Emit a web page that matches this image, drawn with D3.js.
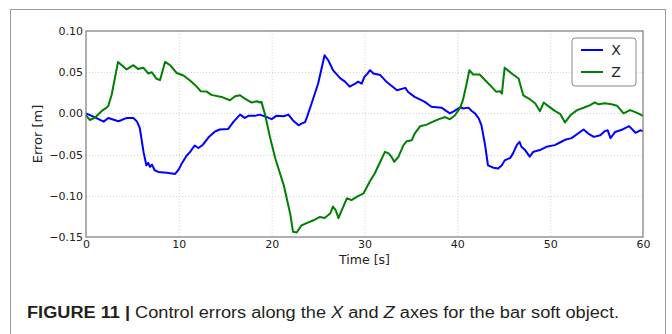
<!DOCTYPE html>
<html>
<head>
<meta charset="utf-8">
<script src="https://cdn.jsdelivr.net/npm/d3@7"></script>
<style>
  body { margin: 0; background: #fff; }
  svg { display: block; }
</style>
</head>
<body>
<div id="chart"></div>
<script>
// Time stamps [s] and errors [m]
const X_TIME = [0, 0.8, 1.9, 2.4, 3.5, 4.4, 5.1, 5.5, 5.8, 6.2, 6.5, 6.7, 6.9, 7.1, 7.4, 7.8, 8.7, 9.6,
  10.0, 10.3, 10.85, 11.2, 11.7, 12.1, 12.6, 13.2, 13.9, 14.4, 15.3, 15.9, 16.6, 17.1, 17.5, 18.2, 18.7,
  19.5, 20.0, 20.5, 21.3, 21.8, 22.3, 22.9, 23.2, 23.6, 23.8, 24.3, 25.0, 25.7, 26.1, 26.6, 27.4, 27.9,
  28.4, 29.0, 29.3, 29.7, 30.0, 30.3, 30.6, 30.95, 31.7, 32.4, 33.5, 34.4, 34.7, 35.4, 36.5, 37.2, 38.3,
  38.8, 39.2, 39.7, 40.3, 40.6, 41.2, 41.55, 41.9, 42.3, 42.6, 43.0, 43.3, 43.9, 44.4, 44.8, 45.1, 45.7,
  46.0, 46.4, 46.7, 46.9, 47.3, 47.8, 48.2, 48.9, 49.6, 50.5, 51.1, 51.6, 52.3, 53.6, 54.1, 54.7, 55.4,
  55.9, 56.2, 56.5, 57.0, 57.8, 58.5, 59.2, 59.7, 60.0];
const X_ERROR = [0.000, -0.004, -0.010, -0.0055, -0.0095, -0.0055, -0.0055, -0.010, -0.018, -0.047,
  -0.063, -0.060, -0.065, -0.062, -0.069, -0.071, -0.072, -0.0735, -0.068, -0.061, -0.051, -0.047,
  -0.039, -0.042, -0.038, -0.029, -0.022, -0.0195, -0.019, -0.010, -0.0015, -0.0055, -0.003, -0.003,
  -0.0015, -0.0045, -0.007, -0.003, -0.0035, -0.0015, -0.0085, -0.0145, -0.0125, -0.0105, -0.0045,
  0.012, 0.036, 0.0705, 0.0645, 0.0525, 0.0425, 0.0385, 0.0325, 0.036, 0.0385, 0.036, 0.0445, 0.048,
  0.0525, 0.0485, 0.0465, 0.038, 0.028, 0.031, 0.026, 0.020, 0.014, 0.008, 0.007, 0.003, 0.000, 0.003,
  0.0075, 0.006, 0.007, 0.003, 0.000, -0.006, -0.0145, -0.039, -0.063, -0.066, -0.067, -0.063, -0.057,
  -0.054, -0.0485, -0.0385, -0.0345, -0.0405, -0.0445, -0.0525, -0.0465, -0.0445, -0.0405, -0.0385,
  -0.035, -0.032, -0.030, -0.0195, -0.0245, -0.0285, -0.0265, -0.0215, -0.0205, -0.030, -0.0225,
  -0.0195, -0.0155, -0.0235, -0.0205, -0.0215];

const Z_TIME = [0, 0.4, 0.97, 1.7, 2.1, 2.4, 2.77, 3.1, 3.45, 4.38, 5.1, 5.6, 6.17, 6.7, 7.08, 7.6, 7.97,
  8.51, 9.05, 9.77, 10.5, 11.2, 11.8, 12.35, 13.0, 13.5, 14.6, 15.5, 16.06, 16.6, 17.1, 17.85, 18.4,
  18.75, 18.9, 19.3, 19.8, 20.4, 21.3, 22.0, 22.3, 22.7, 23.2, 23.7, 24.5, 25.2, 25.7, 26.3, 26.6, 26.9,
  27.2, 27.5, 28.1, 28.6, 29.2, 29.9, 30.6, 31.1, 31.7, 32.2, 32.6, 32.9, 33.2, 33.65, 34.2, 34.55, 35.1,
  35.4, 35.98, 36.7, 37.2, 37.95, 38.7, 39.2, 39.75, 40.3, 40.6, 41.0, 41.3, 41.7, 42.4, 43.0, 43.7,
  44.2, 44.6, 44.8, 45.1, 45.85, 46.6, 47.1, 47.7, 48.4, 48.9, 49.3, 49.8, 50.5, 51.1, 51.6, 52.2, 52.9,
  53.6, 54.3, 54.8, 55.2, 55.9, 56.6, 57.2, 57.9, 58.6, 59.3, 60.0];
const Z_ERROR = [-0.002, -0.008, -0.005, 0.003, 0.006, 0.009, 0.023, 0.042, 0.0625, 0.0534, 0.0585,
  0.054, 0.0555, 0.0485, 0.050, 0.042, 0.0403, 0.0625, 0.0585, 0.049, 0.046, 0.040, 0.034, 0.027,
  0.0265, 0.0225, 0.020, 0.016, 0.0209, 0.022, 0.018, 0.0132, 0.0148, 0.0132, 0.014, -0.002, -0.028,
  -0.055, -0.087, -0.122, -0.1437, -0.1445, -0.136, -0.1335, -0.1297, -0.1257, -0.127, -0.1215, -0.113,
  -0.1175, -0.127, -0.119, -0.103, -0.1053, -0.101, -0.097, -0.082, -0.073, -0.0587, -0.0466, -0.0485,
  -0.0527, -0.0587, -0.0527, -0.0385, -0.0337, -0.0325, -0.0245, -0.0157, -0.0136, -0.011, -0.0072,
  -0.0044, -0.0072, -0.0023, 0.0068, 0.016, 0.036, 0.0525, 0.0472, 0.0472, 0.0403, 0.0322, 0.0262,
  0.027, 0.024, 0.0555, 0.0485, 0.0424, 0.022, 0.018, 0.012, 0.0027, 0.0132, 0.0088, 0.003, -0.001,
  -0.011, -0.002, 0.004, 0.0068, 0.0101, 0.0134, 0.011, 0.0122, 0.011, 0.0094, 0.0, 0.004, 0.001, -0.003];

const X_TICKS = [0, 10, 20, 30, 40, 50, 60];
const Y_TICKS = [0.10, 0.05, 0.00, -0.05, -0.10, -0.15];
const SERIES_NAMES = ['X', 'Z'];
const COLORS = ['#0000ff', '#008000'];

const width = 672;
const height = 334;
const margin = {left: 86, right: 29, top: 31, bottom: 97};
const fmt = d3.format('.2f');
const minus = (s) => s.replace('-', '\u2212');

const svg = d3.select('#chart')
  .append('svg')
    .attr('width', width)
    .attr('height', height);

// outer figure frame (bottom edge runs off the page)
svg.append('rect')
  .attr('x', 10.5)
  .attr('y', 9.5)
  .attr('width', 655)
  .attr('height', 340)
  .attr('fill', 'none')
  .attr('stroke', '#9a9a9a')
  .attr('stroke-width', 1);

const xScale = d3.scaleLinear()
  .domain([0, 60])
  .range([margin.left, width - margin.right]);
const yScale = d3.scaleLinear()
  .domain([-0.15, 0.10])
  .range([height - margin.bottom, margin.top]);

// dotted grid
const grid = svg.append('g')
  .attr('stroke', '#c8c8c8')
  .attr('stroke-width', 0.8)
  .attr('stroke-dasharray', '1,2');
grid.selectAll('line.gx')
  .data(X_TICKS.slice(1, -1))
  .enter().append('line')
    .attr('x1', (d) => xScale(d) + 0.5)
    .attr('x2', (d) => xScale(d) + 0.5)
    .attr('y1', yScale(0.10))
    .attr('y2', yScale(-0.15));
grid.selectAll('line.gy')
  .data(Y_TICKS.slice(1, -1))
  .enter().append('line')
    .attr('x1', xScale(0))
    .attr('x2', xScale(60))
    .attr('y1', (d) => Math.round(yScale(d)) + 0.5)
    .attr('y2', (d) => Math.round(yScale(d)) + 0.5);

// axes (tick labels only, matplotlib style)
const xAxis = svg.append('g')
  .attr('transform', `translate(0,${yScale(-0.15)})`)
  .call(d3.axisBottom(xScale).tickValues(X_TICKS).tickSize(0).tickFormat(d3.format('d')));
const yAxis = svg.append('g')
  .attr('transform', `translate(${xScale(0)},0)`)
  .call(d3.axisLeft(yScale).tickValues(Y_TICKS).tickSize(0).tickFormat((d) => minus(fmt(d))));
[xAxis, yAxis].forEach((a) => {
  a.select('.domain').remove();
  a.selectAll('.tick text')
    .attr('font-family', 'DejaVu Sans')
    .attr('font-size', 11)
    .attr('fill', '#222');
});

// lines
const line = d3.line()
  .x((d) => xScale(d[0]))
  .y((d) => yScale(d[1]));
const series = [
  d3.zip(X_TIME, X_ERROR),
  d3.zip(Z_TIME, Z_ERROR)
];
svg.append('g')
  .selectAll('path')
  .data(series)
  .enter().append('path')
    .attr('d', line)
    .attr('fill', 'none')
    .attr('stroke', (d, i) => COLORS[i])
    .attr('stroke-width', 2)
    .attr('stroke-linejoin', 'round');

// plot frame
svg.append('rect')
  .attr('x', xScale(0))
  .attr('y', yScale(0.10))
  .attr('width', xScale(60) - xScale(0))
  .attr('height', yScale(-0.15) - yScale(0.10))
  .attr('fill', 'none')
  .attr('stroke', '#7a7a7a')
  .attr('stroke-width', 1.2);

// axis labels
svg.append('text')
  .attr('x', (xScale(0) + xScale(60)) / 2)
  .attr('y', 264)
  .attr('text-anchor', 'middle')
  .attr('font-family', 'DejaVu Sans')
  .attr('font-size', 12.5)
  .attr('fill', '#222')
  .text('Time [s]');
svg.append('text')
  .attr('transform', `translate(42,${(yScale(0.10) + yScale(-0.15)) / 2}) rotate(-90)`)
  .attr('text-anchor', 'middle')
  .attr('font-family', 'DejaVu Sans')
  .attr('font-size', 13)
  .attr('fill', '#222')
  .text('Error [m]');

// legend
const legend = svg.append('g')
  .attr('transform', 'translate(572,38)');
legend.append('rect')
  .attr('width', 64)
  .attr('height', 48)
  .attr('rx', 3)
  .attr('fill', '#fff')
  .attr('stroke', '#888')
  .attr('stroke-width', 1);
const item = legend.selectAll('g.item')
  .data(SERIES_NAMES)
  .enter().append('g')
    .attr('transform', (d, i) => `translate(0,${12 + i * 22})`);
item.append('line')
  .attr('x1', 9)
  .attr('x2', 31)
  .attr('stroke', (d, i) => COLORS[i])
  .attr('stroke-width', 2);
item.append('text')
  .attr('x', 44)
  .attr('y', 5)
  .attr('text-anchor', 'middle')
  .attr('font-family', 'DejaVu Sans')
  .attr('font-size', 14)
  .attr('fill', '#222')
  .text((d) => d);

// caption
const caption = svg.append('text')
  .attr('x', 27)
  .attr('y', 318)
  .attr('font-family', 'Liberation Sans, Arial, sans-serif')
  .attr('font-size', 16)
  .attr('fill', '#231f20');
caption.append('tspan').attr('font-weight', 'bold').text('FIGURE 11 | ');
caption.append('tspan').text('Control errors along the ');
caption.append('tspan').attr('font-style', 'italic').text('X');
caption.append('tspan').text(' and ');
caption.append('tspan').attr('font-style', 'italic').text('Z');
caption.append('tspan').text(' axes for the bar soft object.');
caption.attr('textLength', 592).attr('lengthAdjust', 'spacingAndGlyphs');
</script>
</body>
</html>
